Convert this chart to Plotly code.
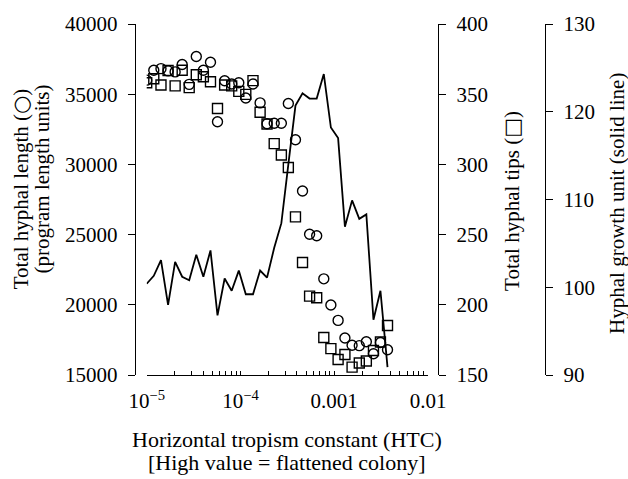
import plotly.graph_objects as go

# Horizontal tropism constant values (log-spaced runs)
htc = [1.00e-5, 1.19e-5, 1.42e-5, 1.69e-5, 2.01e-5, 2.39e-5, 2.84e-5, 3.38e-5,
       4.02e-5, 4.79e-5, 5.69e-5, 6.78e-5, 8.06e-5, 9.60e-5, 1.14e-4, 1.36e-4,
       1.62e-4, 1.92e-4, 2.29e-4, 2.73e-4, 3.24e-4, 3.86e-4, 4.59e-4, 5.46e-4,
       6.50e-4, 7.74e-4, 9.21e-4, 1.10e-3, 1.30e-3, 1.55e-3, 1.85e-3, 2.20e-3,
       2.62e-3, 3.11e-3, 3.70e-3]

# Total hyphal length (program length units)
total_length = [36000, 36710, 36820, 36660, 36590, 37120, 35700, 37680, 36710,
                37280, 33040, 35960, 35730, 35820, 34730, 35730, 34380, 32900,
                32930, 32930, 34340, 31760, 28110, 25030, 24920, 21850, 19990,
                18890, 17630, 17120, 17090, 17370, 16510, 17320, 16800]

# Total hyphal tips
total_tips = [358.2, 361.0, 356.6, 366.9, 355.9, 367.1, 354.7, 363.9, 362.4,
              358.9, 339.8, 356.6, 355.9, 352.0, 349.9, 359.7, 337.1, 328.8,
              314.8, 306.7, 297.8, 262.6, 230.1, 206.2, 205.0, 176.7, 168.8,
              161.0, 164.6, 155.6, 158.6, 160.0, 167.4, 173.5, 185.3]

# Hyphal growth unit
growth_unit = [100.4, 101.3, 103.1, 98.0, 102.9, 101.2, 100.8, 103.7, 101.2,
               104.2, 96.8, 101.0, 99.6, 101.9, 99.2, 99.2, 101.9, 101.1, 104.5,
               107.3, 114.0, 120.7, 122.1, 121.5, 121.5, 124.3, 118.2, 117.0,
               106.9, 109.9, 107.8, 108.3, 96.3, 99.6, 90.9]

x_major = [1e-5, 1e-4, 1e-3, 1e-2]
x_major_text = ["10<sup>\u22125</sup>", "10<sup>\u22124</sup>", "0.001", "0.01"]
length_ticks = [15000, 20000, 25000, 30000, 35000, 40000]
tips_ticks = [150, 200, 250, 300, 350, 400]
growth_ticks = [90, 100, 110, 120, 130]

W, H = 628, 479
L, R, T, B = 135, 545, 16, 375
FONT = "Liberation Serif, Times New Roman, serif"
SYM = "<span style='font-family:DejaVu Sans'><b>{}</b></span>"
FS = 21


def px(xp):
    return (xp - L) / (R - L)


def py(yp):
    return (B - yp) / (B - T)


# full set of log tick positions: majors plus 2..9 minors in each decade
x_tickvals = []
x_ticktext = []
for k, dec in enumerate(x_major[:-1]):
    for m in range(1, 10):
        x_tickvals.append(m * dec)
        x_ticktext.append(x_major_text[k] if m == 1 else "")
x_tickvals.append(x_major[-1])
x_ticktext.append(x_major_text[-1])

fig = go.Figure()

fig.add_trace(go.Scatter(
    x=htc, y=total_length, mode="markers", yaxis="y",
    marker=dict(symbol="circle-open", size=10, color="black",
                line=dict(width=1.4, color="black")),
    showlegend=False))

fig.add_trace(go.Scatter(
    x=htc, y=total_tips, mode="markers", yaxis="y2",
    marker=dict(symbol="square-open", size=10, color="black",
                line=dict(width=1.4, color="black")),
    showlegend=False))

fig.add_trace(go.Scatter(
    x=htc, y=growth_unit, mode="lines", yaxis="y3",
    line=dict(color="black", width=1.8),
    showlegend=False))

axis_common = dict(showgrid=False, zeroline=False, showline=True,
                   linecolor="black", linewidth=1.4, tickcolor="black",
                   tickwidth=1.4, tickfont=dict(family=FONT, size=FS, color="black"))

fig.update_layout(
    width=W, height=H, autosize=False,
    margin=dict(l=L, r=W - R, t=T, b=H - B, pad=0),
    paper_bgcolor="white", plot_bgcolor="white",
    font=dict(family=FONT, size=FS, color="black"),
    xaxis=dict(type="log", range=[-5, -2], domain=[px(146.7), px(428)],
               anchor="y", tickvals=x_tickvals, ticktext=x_ticktext,
               ticks="inside", ticklen=4, ticklabelstandoff=7, **axis_common),
    yaxis=dict(range=[15000, 40000], tickvals=length_ticks, tickformat="d",
               anchor="free", position=0, side="left", ticks="outside",
               ticklen=7, ticklabelstandoff=6, **axis_common),
    yaxis2=dict(range=[150, 400], tickvals=tips_ticks, tickformat="d",
                anchor="free", overlaying="y", position=px(438), side="right",
                ticks="outside", ticklen=7, ticklabelstandoff=6, **axis_common),
    yaxis3=dict(range=[90, 130], tickvals=growth_ticks, tickformat="d",
                anchor="free", overlaying="y", position=1, side="right",
                ticks="outside", ticklen=7, ticklabelstandoff=6, **axis_common),
)

titles = [
    ("Total hyphal length (" + SYM.format("\u25cb") + ")", 21, 184, -90, FS),
    ("(program length units)", 42, 175, -90, FS),
    ("Total hyphal tips (" + SYM.format("\u25a1") + ")", 512, 197, -90, FS),
    ("Hyphal growth unit (solid line)", 617, 200, -90, FS),
    ("Horizontal tropism constant (HTC)", 287, 441, 0, 22),
    ("[High value = flattened colony]", 287, 464, 0, 22),
]
for text, xp_, yp_, ang, size in titles:
    fig.add_annotation(text=text, xref="paper", yref="paper",
                       x=px(xp_), y=py(yp_), xanchor="center", yanchor="middle",
                       textangle=ang, showarrow=False,
                       font=dict(family=FONT, size=size, color="black"))

fig.write_html("out.html")
